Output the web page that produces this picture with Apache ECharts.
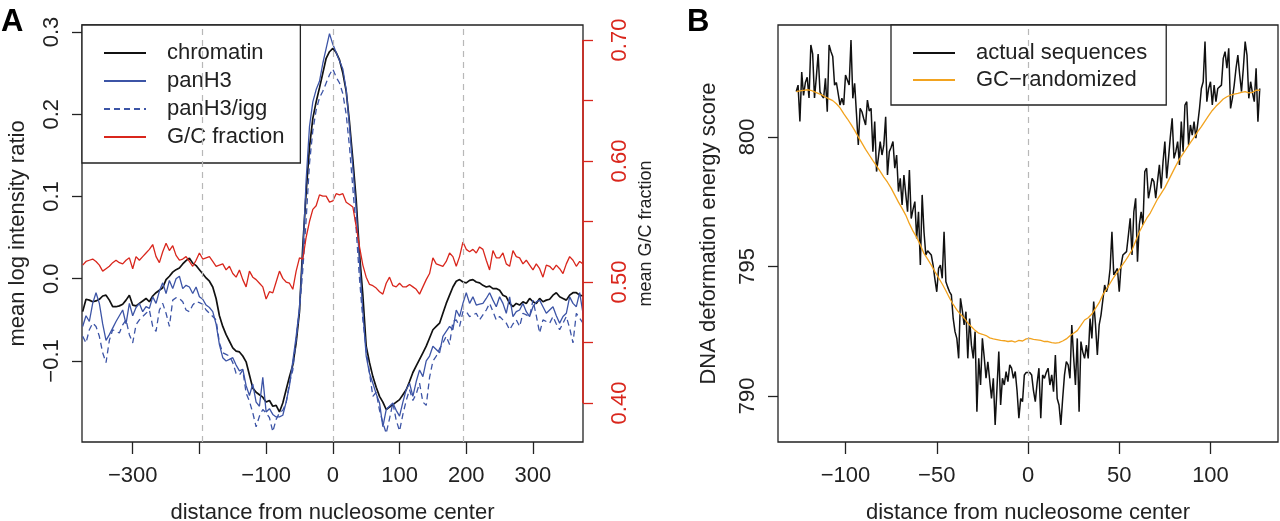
<!DOCTYPE html>
<html><head><meta charset="utf-8">
<script src="https://cdn.jsdelivr.net/npm/echarts@6/dist/echarts.min.js"></script>
<style>html,body{margin:0;padding:0;background:#fff}#c{width:1280px;height:521px}</style>
</head><body><div id="c"></div>
<script>
// ---------- Panel A data (distance from nucleosome center, 5 bp steps from -375 to 375) ----------
const posStartA = -375, posStepA = 5;
const chromatin = [
-0.040,-0.025,-0.026,-0.028,-0.027,-0.025,-0.021,-0.020,-0.026,-0.034,
-0.034,-0.033,-0.031,-0.026,-0.020,-0.032,-0.033,-0.030,-0.027,-0.024,
-0.028,-0.021,-0.017,-0.014,-0.011,-0.001,0.003,0.008,0.011,0.013,
0.018,0.022,0.025,0.019,0.016,0.011,0.006,0.001,-0.003,-0.010,
-0.024,-0.045,-0.058,-0.068,-0.076,-0.084,-0.088,-0.089,-0.094,-0.101,
-0.117,-0.133,-0.138,-0.141,-0.144,-0.150,-0.148,-0.155,-0.154,-0.162,
-0.151,-0.135,-0.119,-0.105,-0.078,-0.040,0.040,0.105,0.160,0.195,
0.215,0.232,0.250,0.268,0.276,
0.280,0.275,0.266,0.250,0.228,0.190,0.145,0.096,0.030,-0.020,
-0.082,-0.102,-0.119,-0.132,-0.143,-0.150,-0.159,-0.156,-0.153,-0.150,
-0.147,-0.141,-0.135,-0.125,-0.114,-0.106,-0.098,-0.090,-0.082,-0.072,
-0.062,-0.058,-0.054,-0.042,-0.030,-0.020,-0.010,-0.003,-0.001,-0.004,
-0.005,-0.002,-0.001,-0.004,-0.005,-0.008,-0.010,-0.009,-0.012,-0.012,
-0.014,-0.020,-0.022,-0.030,-0.034,-0.030,-0.032,-0.028,-0.030,-0.024,
-0.028,-0.030,-0.024,-0.028,-0.026,-0.025,-0.020,-0.017,-0.022,-0.024,
-0.026,-0.020,-0.017,-0.017,-0.020,-0.021];
const panH3 = [
-0.058,-0.045,-0.052,-0.030,-0.017,-0.030,-0.055,-0.075,-0.068,-0.060,
-0.052,-0.045,-0.038,-0.055,-0.030,-0.045,-0.035,-0.030,-0.040,-0.034,
-0.036,-0.022,-0.030,-0.015,-0.005,-0.018,-0.002,-0.012,0.000,0.003,
-0.012,-0.008,-0.010,-0.018,-0.010,-0.022,-0.025,-0.032,-0.035,-0.040,
-0.055,-0.080,-0.096,-0.100,-0.098,-0.096,-0.105,-0.112,-0.110,-0.130,
-0.142,-0.128,-0.150,-0.155,-0.120,-0.162,-0.158,-0.165,-0.168,-0.168,
-0.166,-0.150,-0.130,-0.100,-0.070,-0.035,0.030,0.120,0.185,0.215,
0.230,0.240,0.262,0.280,0.298,
0.285,0.275,0.265,0.255,0.230,0.185,0.135,0.085,0.020,-0.040,
-0.094,-0.115,-0.127,-0.140,-0.151,-0.180,-0.159,-0.155,-0.151,-0.160,
-0.167,-0.150,-0.135,-0.127,-0.143,-0.125,-0.111,-0.119,-0.100,-0.094,
-0.082,-0.086,-0.090,-0.070,-0.064,-0.058,-0.062,-0.038,-0.046,-0.030,
-0.017,-0.030,-0.022,-0.032,-0.031,-0.030,-0.024,-0.017,-0.026,-0.034,
-0.022,-0.030,-0.042,-0.022,-0.046,-0.040,-0.038,-0.030,-0.040,-0.046,
-0.034,-0.028,-0.026,-0.034,-0.042,-0.038,-0.034,-0.045,-0.054,-0.046,
-0.042,-0.022,-0.030,-0.034,-0.017,-0.042];
const panH3igg = [
-0.070,-0.078,-0.062,-0.054,-0.058,-0.070,-0.090,-0.102,-0.075,-0.062,
-0.064,-0.066,-0.056,-0.050,-0.068,-0.078,-0.056,-0.050,-0.046,-0.042,
-0.038,-0.058,-0.064,-0.038,-0.030,-0.042,-0.058,-0.026,-0.023,-0.024,
-0.028,-0.038,-0.040,-0.032,-0.028,-0.029,-0.031,-0.038,-0.042,-0.046,
-0.050,-0.078,-0.090,-0.092,-0.094,-0.102,-0.115,-0.117,-0.111,-0.139,
-0.149,-0.163,-0.180,-0.167,-0.159,-0.163,-0.169,-0.186,-0.171,-0.163,
-0.160,-0.151,-0.127,-0.111,-0.074,-0.038,0.011,0.072,0.140,0.180,
0.205,0.220,0.228,0.238,0.248,
0.255,0.245,0.238,0.225,0.200,0.160,0.110,0.060,0.000,-0.050,
-0.086,-0.115,-0.143,-0.138,-0.160,-0.175,-0.188,-0.170,-0.151,-0.172,
-0.185,-0.165,-0.148,-0.135,-0.148,-0.140,-0.127,-0.150,-0.154,-0.120,
-0.100,-0.094,-0.085,-0.078,-0.070,-0.080,-0.052,-0.050,-0.058,-0.040,
-0.040,-0.046,-0.044,-0.042,-0.050,-0.044,-0.038,-0.030,-0.040,-0.050,
-0.046,-0.050,-0.054,-0.062,-0.055,-0.050,-0.058,-0.042,-0.044,-0.046,
-0.026,-0.045,-0.066,-0.050,-0.052,-0.054,-0.046,-0.055,-0.062,-0.054,
-0.046,-0.060,-0.078,-0.042,-0.048,-0.054];
const gcFraction = [
0.514,0.517,0.518,0.519,0.517,0.514,0.509,0.511,0.513,0.516,
0.518,0.516,0.515,0.518,0.520,0.511,0.521,0.518,0.521,0.524,
0.527,0.531,0.521,0.516,0.525,0.532,0.526,0.530,0.522,0.518,
0.519,0.521,0.517,0.513,0.518,0.524,0.519,0.520,0.521,0.517,
0.513,0.514,0.515,0.510,0.513,0.507,0.504,0.510,0.502,0.496,
0.509,0.504,0.502,0.499,0.496,0.486,0.492,0.491,0.500,0.509,
0.503,0.500,0.499,0.494,0.509,0.520,0.519,0.537,0.550,0.560,
0.563,0.572,0.571,0.571,0.566,
0.567,0.573,0.572,0.573,0.566,0.564,0.562,0.546,0.529,0.514,
0.504,0.498,0.497,0.495,0.492,0.490,0.499,0.504,0.497,0.496,
0.499,0.496,0.496,0.498,0.496,0.494,0.490,0.496,0.502,0.507,
0.520,0.515,0.514,0.513,0.517,0.524,0.521,0.513,0.521,0.533,
0.527,0.525,0.527,0.524,0.529,0.527,0.518,0.510,0.526,0.520,
0.520,0.524,0.515,0.513,0.526,0.521,0.520,0.515,0.518,0.514,
0.510,0.515,0.511,0.504,0.514,0.513,0.510,0.514,0.511,0.507,
0.515,0.521,0.518,0.513,0.517,0.515];
const namesA = ['chromatin','panH3','panH3/igg','G/C fraction'];
const ticksAx = [-300,-200,-100,0,100,200,300];
const labelsAx = [-300,-100,0,100,200,300];
const ticksAy = [-0.1,0,0.1,0.2,0.3];
const ticksAy2 = [0.40,0.45,0.50,0.55,0.60,0.65,0.70];
const labelsAy2 = [0.40,0.50,0.60,0.70];
const refLinesA = [-195,0,195];

// ---------- Panel B data ----------
// actual sequences: 1 bp steps from -127 to 127
const posStartB1 = -127, posStepB1 = 1;
const actualSeq = [
801.75,802.0,800.6,802.5,801.6,802.1,802.3,801.5,803.55,803.2,
801.5,802.3,803.2,801.75,801.6,801.5,802.26,800.97,803.55,803.3,
803.1,802.0,802.1,802.13,801.23,801.49,801.23,802.39,802.2,802.0,
803.74,801.49,802.07,800.9,799.69,801.1,800.97,800.7,800.46,801.42,
801.0,801.1,799.43,800.59,798.66,799.2,799.82,799.3,799.69,800.78,
798.53,799.43,799.6,799.82,798.79,799.3,797.89,798.4,797.37,798.53,
797.8,797.11,798.72,796.85,797.2,797.5,796.08,797.11,795.05,797.76,
796.34,795.44,795.6,795.57,795.44,795.05,794.5,794.02,794.92,795.05,
794.54,796.34,794.41,794.2,794.02,793.9,792.99,792.48,792.22,791.45,
793.77,793.3,792.74,793.25,791.45,792.99,791.96,791.45,792.48,789.39,
791.45,790.42,792.22,791.5,790.68,791.32,791.32,789.9,790.68,788.88,
790.3,791.71,789.65,790.68,790.42,790.94,790.55,791.2,791.07,790.68,
790.94,790.2,789.14,789.9,789.78,790.81,790.9,
790.94,790.9,790.81,790.2,789.78,790.5,791.07,789.14,790.81,790.68,
790.9,791.07,790.42,790.81,790.16,791.58,789.9,789.65,788.88,789.9,
790.81,791.32,791.2,790.68,792.74,791.5,790.42,792.22,789.39,792.1,
791.7,791.45,791.96,791.45,792.99,792.22,793.64,792.74,791.58,792.74,
793.12,793.7,794.28,794.02,794.28,794.92,796.34,794.67,794.8,794.92,
794.02,795.05,795.44,795.44,795.57,796.2,796.86,795.44,797.11,797.63,
795.18,796.6,797.11,796.6,798.66,798.79,797.63,798.0,798.4,798.27,
797.63,798.3,798.92,798.01,799.04,799.82,798.4,799.17,800.0,800.72,
799.17,799.43,799.82,798.92,800.59,799.43,801.23,801.36,799.69,800.46,
800.07,800.59,799.95,800.5,801.1,801.87,802.13,803.68,801.36,801.87,
802.13,801.23,802.0,801.36,801.87,801.9,802.0,803.03,803.29,802.65,
803.42,801.1,801.49,802.0,802.65,803.16,802.4,801.75,802.65,803.68,
803.16,801.49,802.13,801.7,801.36,802.65,800.59,801.87];
// GC-randomized: 2 bp steps from -127 to 127
const posStartB2 = -127, posStepB2 = 2;
const gcRandomized = [
801.75,801.78,801.80,801.82,801.80,801.74,801.68,801.62,801.54,801.47,
801.40,801.28,801.12,800.90,800.70,800.48,800.25,800.00,799.76,799.52,
799.30,799.08,798.88,798.67,798.45,798.25,798.02,797.75,797.48,797.24,
796.98,796.65,796.36,796.12,795.83,795.50,795.28,795.05,794.80,794.56,
794.32,794.06,793.78,793.53,793.32,793.15,793.00,792.82,792.67,792.53,
792.42,792.38,792.33,792.24,792.20,792.17,792.14,792.13,792.10,792.12,
792.08,792.14,792.12,792.20,
792.22,792.18,792.16,792.14,792.10,792.10,792.06,792.04,792.06,792.12,
792.20,792.32,792.42,792.52,792.72,792.93,793.02,793.16,793.38,793.60,
793.90,794.12,794.35,794.58,794.78,794.98,795.18,795.40,795.63,795.98,
796.33,796.60,796.85,797.06,797.33,797.60,797.82,798.04,798.32,798.60,
798.88,799.14,799.35,799.57,799.78,799.98,800.20,800.40,800.61,800.82,
801.02,801.18,801.32,801.46,801.55,801.61,801.65,801.68,801.72,801.75,
801.70,801.72,801.80,801.80];
const namesB = ['actual sequences','GC\u2212randomized'];
const ticksBx = [-100,-50,0,50,100];
const ticksBy = [790,795,800];
const refLinesB = [0];

// ---------- build ----------
const FONT = 'Liberation Sans, Arial, Helvetica, sans-serif';
const TXT = '#222';
const RED = '#d9261c';
const BLUE = '#3c54a6';
const ORANGE = '#f2a31f';
const minus = s => String(s).replace('-', '\u2212');
const pairs = (arr, start, step) => arr.map((v, i) => [start + i * step, v]);

const noLine = {show: false, onZero: false};
const tickStyle = (vals, len, color) => ({show: true, inside: false, length: len, customValues: vals, lineStyle: {color: color || TXT, width: 1.3}});
const refMark = vals => ({silent: true, symbol: ['none','none'], label: {show: false},
  lineStyle: {color: '#b8b8b8', type: [6,5], width: 1.2}, data: vals.map(v => ({xAxis: v}))});
const legendBase = {orient: 'vertical', itemWidth: 42, itemHeight: 14,
  backgroundColor: '#fff', borderColor: '#222', borderWidth: 1.3, borderRadius: 0, selectedMode: false,
  itemStyle: {color: 'rgba(0,0,0,0)', borderWidth: 0, opacity: 0},
  textStyle: {fontSize: 22, color: TXT, fontFamily: FONT, padding: [0,0,0,16]}};
const gridBase = {show: true, borderColor: '#222', borderWidth: 1.3, backgroundColor: 'transparent',
  containLabel: false, outerBoundsMode: 'none'};

const chart = echarts.init(document.getElementById('c'), null, {renderer: 'canvas'});
chart.setOption({
  animation: false,
  backgroundColor: '#fff',
  textStyle: {fontFamily: FONT},
  title: [
    {text: 'A', left: 1, top: 7, padding: 0, textStyle: {fontSize: 31, fontWeight: 'bold', color: '#000', fontFamily: FONT}},
    {text: 'B', left: 687, top: 7, padding: 0, textStyle: {fontSize: 31, fontWeight: 'bold', color: '#000', fontFamily: FONT}}
  ],
  grid: [
    Object.assign({}, gridBase, {left: 82, top: 25, width: 501, height: 417}),
    Object.assign({}, gridBase, {left: 778, top: 25, width: 500, height: 417})
  ],
  legend: [
    Object.assign({}, legendBase, {data: namesA, left: 82, top: 25, padding: [17,16,15,21], itemGap: 6}),
    Object.assign({}, legendBase, {data: namesB, left: 891, top: 25, padding: [17,19,14,21], itemGap: 5})
  ],
  xAxis: [
    {type: 'value', gridIndex: 0, min: -376, max: 375, splitLine: {show: false}, axisLine: noLine,
     axisTick: tickStyle(ticksAx, 12),
     axisLabel: {customValues: labelsAx, margin: 23, fontSize: 22, color: TXT, fontFamily: FONT, formatter: v => minus(v)},
     name: 'distance from nucleosome center', nameLocation: 'middle', nameGap: 60,
     nameTextStyle: {fontSize: 22, color: TXT, fontFamily: FONT}},
    {type: 'value', gridIndex: 1, min: -137, max: 137, splitLine: {show: false}, axisLine: noLine,
     axisTick: tickStyle(ticksBx, 12),
     axisLabel: {customValues: ticksBx, margin: 23, fontSize: 22, color: TXT, fontFamily: FONT, formatter: v => minus(v)},
     name: 'distance from nucleosome center', nameLocation: 'middle', nameGap: 60,
     nameTextStyle: {fontSize: 22, color: TXT, fontFamily: FONT}}
  ],
  yAxis: [
    {type: 'value', gridIndex: 0, position: 'left', min: -0.1985, max: 0.3085, splitLine: {show: false}, axisLine: noLine,
     axisTick: tickStyle(ticksAy, 10),
     axisLabel: {customValues: ticksAy, rotate: 90, margin: 19, fontSize: 22, color: TXT, fontFamily: FONT, formatter: v => minus(v.toFixed(1))},
     name: 'mean log intensity ratio', nameLocation: 'middle', nameGap: 53,
     nameTextStyle: {fontSize: 22, color: TXT, fontFamily: FONT}},
    {type: 'value', gridIndex: 0, position: 'right', min: 0.3678, max: 0.7124, splitLine: {show: false}, axisLine: noLine,
     axisTick: tickStyle(ticksAy2, 10, RED),
     axisLabel: {customValues: labelsAy2, rotate: 90, margin: 26, fontSize: 22, color: RED, fontFamily: FONT, formatter: v => v.toFixed(2)},
     name: 'mean G/C fraction', nameLocation: 'middle', nameGap: 54,
     nameTextStyle: {fontSize: 18, color: TXT, fontFamily: FONT}},
    {type: 'value', gridIndex: 1, position: 'left', min: 788.22, max: 804.32, splitLine: {show: false}, axisLine: noLine,
     axisTick: tickStyle(ticksBy, 10),
     axisLabel: {customValues: ticksBy, rotate: 90, margin: 19, fontSize: 22, color: TXT, fontFamily: FONT, formatter: v => String(v)},
     name: 'DNA deformation energy score', nameLocation: 'middle', nameGap: 58,
     nameTextStyle: {fontSize: 22, color: TXT, fontFamily: FONT}}
  ],
  series: [
    {name: namesA[0], type: 'line', xAxisIndex: 0, yAxisIndex: 0, symbol: 'none', z: 3,
     lineStyle: {color: '#111', width: 1.7}, itemStyle: {color: '#111'},
     data: pairs(chromatin, posStartA, posStepA), markLine: refMark(refLinesA)},
    {name: namesA[1], type: 'line', xAxisIndex: 0, yAxisIndex: 0, symbol: 'none', z: 3,
     lineStyle: {color: BLUE, width: 1.3}, itemStyle: {color: BLUE},
     data: pairs(panH3, posStartA, posStepA)},
    {name: namesA[2], type: 'line', xAxisIndex: 0, yAxisIndex: 0, symbol: 'none', z: 3,
     lineStyle: {color: BLUE, width: 1.3, type: [6,4]}, itemStyle: {color: BLUE},
     data: pairs(panH3igg, posStartA, posStepA)},
    {name: namesA[3], type: 'line', xAxisIndex: 0, yAxisIndex: 1, symbol: 'none', z: 3,
     lineStyle: {color: RED, width: 1.3}, itemStyle: {color: RED},
     data: pairs(gcFraction, posStartA, posStepA),
     markLine: {silent: true, symbol: ['none','none'], label: {show: false}, lineStyle: {color: RED, type: 'solid', width: 1.6},
       data: [[{coord: [375, labelsAy2[0]]}, {coord: [375, labelsAy2[labelsAy2.length - 1]]}]]}},
    {name: namesB[0], type: 'line', xAxisIndex: 1, yAxisIndex: 2, symbol: 'none', z: 3,
     lineStyle: {color: '#111', width: 1.5}, itemStyle: {color: '#111'},
     data: pairs(actualSeq, posStartB1, posStepB1), markLine: refMark(refLinesB)},
    {name: namesB[1], type: 'line', xAxisIndex: 1, yAxisIndex: 2, symbol: 'none', z: 4,
     lineStyle: {color: ORANGE, width: 1.3}, itemStyle: {color: ORANGE},
     data: pairs(gcRandomized, posStartB2, posStepB2)}
  ]
});
</script>
</body></html>
